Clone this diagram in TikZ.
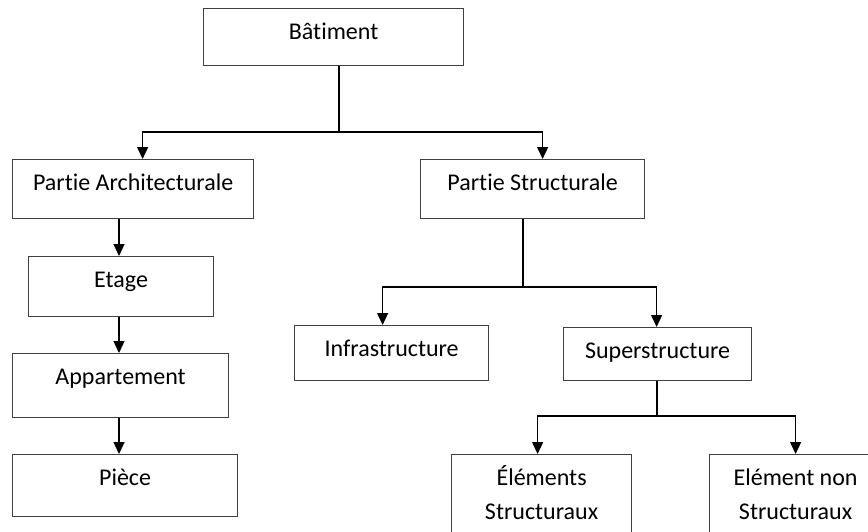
\documentclass[tikz,border=0pt]{standalone}
\usepackage{fontspec}
\setmainfont[Ligatures=NoCommon]{Carlito}
\usetikzlibrary{arrows.meta}

\tikzset{
    box/.style={draw=black!75, line width=1.2pt, anchor=north west, inner sep=0pt,
        align=center, font=\fontsize{24}{34}\selectfont, text height=31pt},
    arr/.style={line width=1.3pt, -{Triangle[width=11pt,length=12pt]}},
    link/.style={line width=1.3pt}
}

\begin{document}
\begin{tikzpicture}[x=1pt,y=1pt]
    \clip (0,0) rectangle (868,-531);

    % Boxes
    \node[box, minimum width=260pt, minimum height=57pt, text depth=26pt] (bat) at (203,-8) {Bâtiment};

    \node[box, minimum width=241pt, minimum height=59pt, text depth=28pt] (archi) at (12,-159) {Partie Architecturale};
    \node[box, minimum width=224pt, minimum height=59pt, text depth=28pt] (struct) at (420,-159) {Partie Structurale};

    \node[box, minimum width=185pt, minimum height=60pt, text depth=29pt] (etage) at (28,-256) {Etage};
    \node[box, minimum width=216pt, minimum height=64pt, text depth=33pt] (appart) at (12,-353) {Appartement};
    \node[box, minimum width=225pt, minimum height=62pt, text depth=31pt] (piece) at (12,-454) {Pièce};

    \node[box, minimum width=194pt, minimum height=55pt, text depth=24pt] (infra) at (294,-325) {Infrastructure};
    \node[box, minimum width=188pt, minimum height=53pt, text depth=22pt] (super) at (563,-327) {Superstructure};

    % two lines: height counts above the last line
    \node[box, minimum width=180pt, minimum height=95pt, text height=65pt, text depth=30pt] (elstruct) at (451,-454) {Éléments\\Structuraux};
    \node[box, minimum width=172pt, minimum height=95pt, text height=65pt, text depth=30pt] (elnon) at (709,-454) {Elément non\\Structuraux};

    % Junction points
    \coordinate (j1) at (339,-132);
    \coordinate (j2) at (523,-287);
    \coordinate (j3) at (657,-416);
    \coordinate (lx) at (119,0);

    % Batiment -> parties
    \draw[link] (bat.south -| j1) -- (j1);
    \draw[arr] (j1) -| ([xshift=9.5pt]archi.north);
    \draw[arr] (j1) -| ([xshift=10pt]struct.north);

    % Partie architecturale
    \draw[arr] (archi.south -| lx) -- (etage.north -| lx);
    \draw[arr] (etage.south -| lx) -- (appart.north -| lx);
    \draw[arr] (appart.south -| lx) -- (piece.north -| lx);

    % Partie structurale
    \draw[link] (struct.south -| j2) -- (j2);
    \draw[arr] (j2) -| ([xshift=-9pt]infra.north);
    \draw[arr] (j2) -| ([xshift=-1pt]super.north);

    % Superstructure
    \draw[link] (super.south -| j3) -- (j3);
    \draw[arr] (j3) -| ([xshift=-4pt]elstruct.north);
    \draw[arr] (j3) -| (elnon.north);
\end{tikzpicture}
\end{document}
